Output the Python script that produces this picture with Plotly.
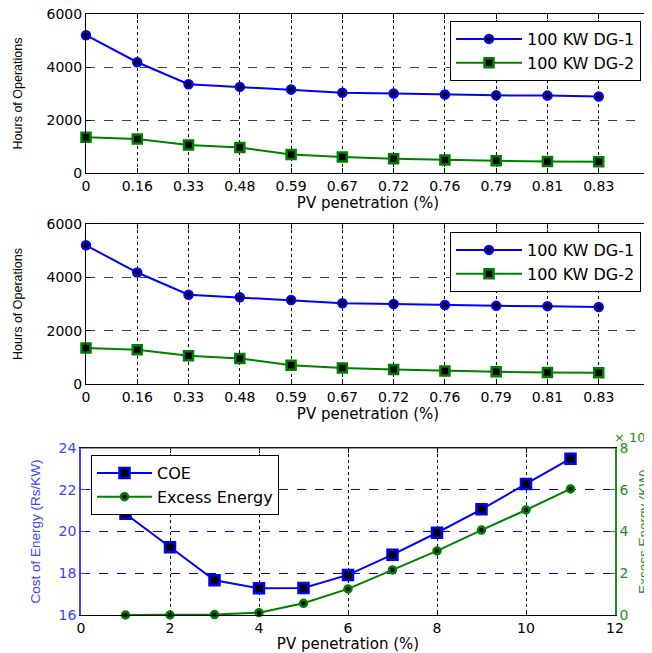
import plotly.graph_objects as go

# ---------------- data ----------------
pv_penetration = ["0", "0.16", "0.33", "0.48", "0.59", "0.67", "0.72", "0.76", "0.79", "0.81", "0.83"]
dg1_hours = [5200, 4180, 3350, 3250, 3150, 3030, 3000, 2960, 2930, 2920, 2890]
dg2_hours = [1350, 1280, 1060, 960, 700, 600, 540, 490, 460, 430, 420]

pv_pct = [1, 2, 3, 4, 5, 6, 7, 8, 9, 10, 11]
coe = [20.85, 19.24, 17.66, 17.28, 17.29, 17.92, 18.89, 19.94, 21.06, 22.28, 23.49]
excess_energy_e5 = [0.0, 0.0, 0.02, 0.11, 0.56, 1.25, 2.16, 3.07, 4.07, 5.03, 6.04]

hours_ticks = [0, 2000, 4000, 6000]
coe_ticks = [16, 18, 20, 22, 24]
excess_ticks = [0, 2, 4, 6, 8]
pv_ticks = [0, 2, 4, 6, 8, 10, 12]

BLUE = "#0000FF"
LBLUE = "#4040FF"
GREEN = "#008000"
AGREEN = "#1E8C1E"
TICKFONT = dict(family="DejaVu Sans, Arial", size=14, color="black")
NARROW = "Liberation Sans Narrow, Liberation Sans, Arial"

# page is 652x653; the html body has an 8px margin, so the figure is 644x645
OFF = 8
W, H = 652 - OFF, 653 - OFF


def px(x):
    return (x - OFF) / W


def py(y):
    return (H - (y - OFF)) / H


def xd(a, b):
    return [px(a), px(b)]


def yd(top, bottom):
    return [py(bottom), py(top)]


fig = go.Figure()

# top two panels
for xa, ya, leg in [("x", "y", "legend"), ("x2", "y2", "legend2")]:
    fig.add_trace(go.Scatter(
        x=pv_penetration, y=dg1_hours, xaxis=xa, yaxis=ya, legend=leg,
        name="100 KW DG-1", mode="lines+markers", cliponaxis=False,
        line=dict(color=BLUE, width=2),
        marker=dict(symbol="circle", size=8, color="black", line=dict(color=BLUE, width=2.5)),
    ))
    fig.add_trace(go.Scatter(
        x=pv_penetration, y=dg2_hours, xaxis=xa, yaxis=ya, legend=leg,
        name="100 KW DG-2", mode="lines+markers", cliponaxis=False,
        line=dict(color=GREEN, width=2),
        marker=dict(symbol="square", size=9, color="black", line=dict(color=GREEN, width=2.5)),
    ))

# bottom panel
fig.add_trace(go.Scatter(
    x=pv_pct, y=coe, xaxis="x3", yaxis="y3", legend="legend3",
    name="COE", mode="lines+markers", cliponaxis=False,
    line=dict(color=BLUE, width=2),
    marker=dict(symbol="square", size=10, color="black", line=dict(color=BLUE, width=2.5)),
))
fig.add_trace(go.Scatter(
    x=pv_pct, y=excess_energy_e5, xaxis="x3", yaxis="y4", legend="legend3",
    name="Excess Energy", mode="lines+markers", cliponaxis=False,
    line=dict(color=GREEN, width=2),
    marker=dict(symbol="circle", size=7, color="black", line=dict(color=GREEN, width=2.5)),
))

common_x = dict(
    type="category", range=[0, 11], showline=True, linecolor="black", linewidth=1,
    mirror="ticks", ticks="inside", ticklen=5, tickcolor="black", automargin=False,
    ticklabeloverflow="allow",
    showgrid=True, gridcolor="black", griddash="dot", gridwidth=1,
    tickfont=TICKFONT, zeroline=False,
    title=dict(text="PV penetration (%)", font=dict(family="DejaVu Sans, Arial", size=15, color="black"), standoff=4),
)
common_y = dict(
    range=[0, 6000], tickvals=hours_ticks, showline=True, linecolor="black", linewidth=1,
    mirror="ticks", ticks="inside", ticklen=5, tickcolor="black", automargin=False,
    ticklabeloverflow="allow",
    showgrid=True, gridcolor="#404040", griddash="dash", gridwidth=1,
    tickfont=TICKFONT, zeroline=False,
    title=dict(text="Hours of Operations", font=dict(family=NARROW, size=12.5, color="black"), standoff=21),
)

LEGFONT = dict(family="DejaVu Sans, Arial", size=16, color="black")

fig.update_layout(
    template="none",
    width=W, height=H, margin=dict(l=0, r=0, t=0, b=0, autoexpand=False),
    paper_bgcolor="white", plot_bgcolor="white",
    font=dict(family="DejaVu Sans, Arial", color="black"),
    xaxis=dict(common_x, domain=xd(86, 650), anchor="y"),
    yaxis=dict(common_y, domain=yd(14, 173), anchor="x"),
    xaxis2=dict(common_x, domain=xd(86, 650), anchor="y2"),
    yaxis2=dict(common_y, domain=yd(224, 384), anchor="x2"),
    xaxis3=dict(
        range=[0, 12], tickvals=pv_ticks, domain=xd(81, 615), anchor="y3", automargin=False,
        ticklabeloverflow="allow",
        showline=True, linecolor="black", linewidth=1, mirror="ticks",
        ticks="inside", ticklen=5, tickcolor="black",
        showgrid=True, gridcolor="black", griddash="dot", gridwidth=1,
        tickfont=TICKFONT, zeroline=False,
        title=dict(text="PV penetration (%)", font=dict(family="DejaVu Sans, Arial", size=15, color="black"), standoff=2),
    ),
    yaxis3=dict(
        range=[16, 24], tickvals=coe_ticks, domain=yd(448, 615), anchor="x3", automargin=False,
        ticklabeloverflow="allow",
        showline=True, linecolor=LBLUE, linewidth=1.5, ticks="inside", ticklen=5, tickcolor=LBLUE,
        showgrid=True, gridcolor=BLUE, griddash="dash", gridwidth=1,
        tickfont=dict(family="DejaVu Sans, Arial", size=14, color=LBLUE), zeroline=False,
        title=dict(text="Cost of Energy (Rs/KW)", font=dict(family=NARROW, size=13.5, color=LBLUE), standoff=15),
    ),
    yaxis4=dict(
        range=[0, 8], tickvals=excess_ticks, overlaying="y3", side="right", anchor="x3", automargin=False,
        ticklabeloverflow="allow",
        showline=True, linecolor=AGREEN, linewidth=1.5, ticks="inside", ticklen=5, tickcolor=AGREEN,
        showgrid=False, zeroline=False,
        tickfont=dict(family="DejaVu Sans, Arial", size=14, color=AGREEN),
        title=dict(text="Excess Energy (KW)", font=dict(family=NARROW, size=13.5, color=AGREEN), standoff=11),
    ),
    legend=dict(x=px(641), y=py(21), xanchor="right", yanchor="top",
                bgcolor="white", bordercolor="black", borderwidth=1,
                font=LEGFONT, tracegroupgap=0, itemwidth=66),
    legend2=dict(x=px(641), y=py(232), xanchor="right", yanchor="top",
                 bgcolor="white", bordercolor="black", borderwidth=1,
                 font=LEGFONT, tracegroupgap=0, itemwidth=66),
    legend3=dict(x=px(91), y=py(455), xanchor="left", yanchor="top",
                 bgcolor="white", bordercolor="black", borderwidth=1,
                 font=LEGFONT, tracegroupgap=0, itemwidth=55),
    showlegend=True,
)

# top border of bottom panel (black)
fig.update_layout(
    shapes=[dict(type="line", xref="x3 domain", yref="y3 domain", x0=0, x1=1, y0=1, y1=1,
                 line=dict(color="#333333", width=1))]
)

fig.add_annotation(
    text="× 10<sup>5</sup>", xref="paper", yref="paper", x=px(612), y=py(437),
    xanchor="left", yanchor="middle", showarrow=False,
    font=dict(family="DejaVu Sans, Arial", size=13, color=AGREEN),
)

fig.write_html("out.html")
